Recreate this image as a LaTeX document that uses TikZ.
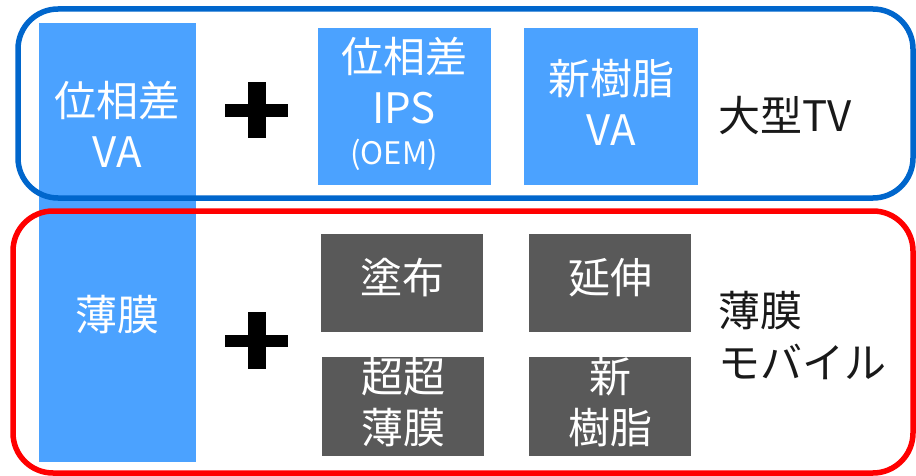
\documentclass[tikz,border=0pt]{standalone}
\usepackage{fontspec}
\setmainfont{Noto Sans CJK JP}
\newfontfamily\jp{Noto Sans CJK JP}
\definecolor{frameblue}{RGB}{0,102,204}
\definecolor{framered}{RGB}{255,0,0}
\definecolor{boxblue}{RGB}{75,162,255}
\definecolor{boxgray}{RGB}{89,89,89}
\tikzset{
  frame/.style={draw, line width=5.5pt, rounded corners=40pt},
  bluebox/.style={fill=boxblue, draw=none, inner sep=0pt},
  graybox/.style={fill=boxgray, draw=none, inner sep=0pt},
  wtext/.style={text=white, font=\jp\fontsize{42}{51}\selectfont, align=center, inner sep=0pt},
  btext/.style={text=black!90, font=\jp\fontsize{42}{52}\selectfont, align=left, inner sep=0pt, anchor=west},
  plusbar/.style={fill=black, draw=none}
}
\begin{document}
\begin{tikzpicture}[x=1pt,y=-1pt]
\useasboundingbox (0,0) rectangle (916,476);
% big light-blue column
\node[bluebox, minimum width=157pt, minimum height=439pt] (col) at (117.5,242.5) {};
% frames
\draw[frame, draw=frameblue] (18,9) rectangle (913,198);
\draw[frame, draw=framered] (13,211) rectangle (913,473);
% column texts
\node[wtext] (t1) at (117,124) {位相差\\VA};
\node[wtext] (t2) at (117,315) {薄膜};
% plus signs
\fill[plusbar] (225,104) rectangle (288,117);
\fill[plusbar] (248,82) rectangle (266,138);
\fill[plusbar] (225,335) rectangle (288,347);
\fill[plusbar] (248,312) rectangle (266,369);
% top boxes
\node[bluebox, minimum width=173pt, minimum height=157pt] (ips) at (404.5,106.5) {};
\node[bluebox, minimum width=174pt, minimum height=157pt] (nva) at (611,106.5) {};
\node[wtext] (t3) at (404,81) {位相差\\IPS};
\node[wtext, font=\jp\fontsize{31}{36}\selectfont] (t4) at (394,155) {(OEM)};
\node[wtext] (t5) at (611,102) {新樹脂\\VA};
\node[btext] (t6) at (718,116) {大型TV};
% bottom boxes
\node[graybox, minimum width=162pt, minimum height=98pt] (b1) at (402,283) {};
\node[graybox, minimum width=162pt, minimum height=98pt] (b2) at (610,283) {};
\node[graybox, minimum width=162pt, minimum height=99pt] (b3) at (403,406.5) {};
\node[graybox, minimum width=162pt, minimum height=99pt] (b4) at (610,406.5) {};
\node[wtext] (t7) at (402,278) {塗布};
\node[wtext] (t8) at (610,278) {延伸};
\node[wtext] (t9) at (403,402) {超超\\薄膜};
\node[wtext] (t10) at (610,402) {新\\樹脂};
\node[btext] (t11) at (718,336) {薄膜\\モバイル};
\end{tikzpicture}
\end{document}
